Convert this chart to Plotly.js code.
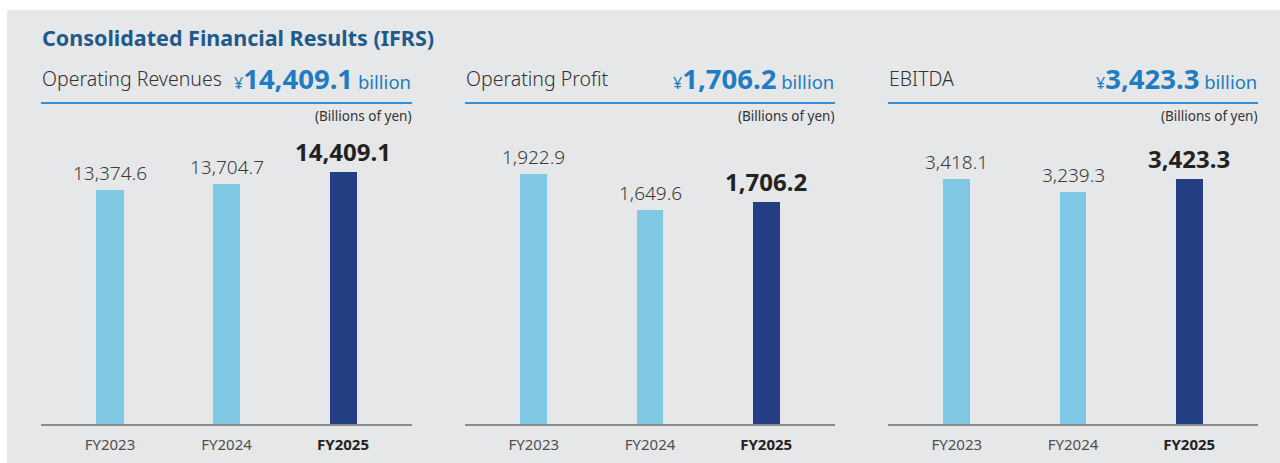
<!DOCTYPE html>
<html>
<head>
<meta charset="utf-8">
<script src="https://cdn.plot.ly/plotly-3.0.1.min.js"></script>
<style>html,body{margin:0;padding:0;background:#fff;}#chart{width:1280px;height:463px;}</style>
</head>
<body>
<div id="chart"></div>
<script>
// ---- data ----
const mainTitle = 'Consolidated Financial Results (IFRS)';
const fiscalYears = ['FY2023', 'FY2024', 'FY2025'];
const panelTitles = ['Operating Revenues', 'Operating Profit', 'EBITDA'];
const operatingRevenues = [13374.6, 13704.7, 14409.1];
const operatingProfit = [1922.9, 1649.6, 1706.2];
const ebitda = [3418.1, 3239.3, 3423.3];
const unitLabel = '(Billions of yen)';
const highlightIndex = 2;

// ---- layout helpers ----
const W = 1280, H = 463;
const seriesList = [operatingRevenues, operatingProfit, ebitda];
const panelX = [[41, 412], [465, 835], [888, 1258]];
const yRanges = [[0, 16811], [0, 2261], [0, 4102]];
const plotTop = 130, plotBottom = 424;
const lightBar = '#7fc8e3', darkBar = '#233e82';
const fmt = v => v.toLocaleString('en-US', {minimumFractionDigits: 1, maximumFractionDigits: 1});
const px = x => x / W;
const py = y => 1 - y / H;
const FONT = 'Noto Sans, Open Sans, sans-serif';

const traces = [];
const annotations = [];
const shapes = [];
const layout = {
  width: W, height: H,
  margin: {l: 0, r: 0, t: 0, b: 0},
  paper_bgcolor: '#e6e7e9',
  plot_bgcolor: 'rgba(0,0,0,0)',
  showlegend: false,
  bargap: 0,
  font: {family: FONT, color: '#333'},
};

// white border strips
shapes.push({type: 'rect', xref: 'paper', yref: 'paper', x0: 0, x1: px(7), y0: 0, y1: 1, fillcolor: '#ffffff', line: {width: 0}, layer: 'below'});
shapes.push({type: 'rect', xref: 'paper', yref: 'paper', x0: 0, x1: 1, y0: py(10), y1: 1, fillcolor: '#ffffff', line: {width: 0}, layer: 'below'});

annotations.push({
  xref: 'paper', yref: 'paper', x: px(40), y: py(37), xanchor: 'left', yanchor: 'middle',
  text: '<b>' + mainTitle + '</b>', showarrow: false,
  font: {family: FONT, size: 21.5, color: '#1e5a8c'}
});

seriesList.forEach((vals, i) => {
  const n = i === 0 ? '' : String(i + 1);
  const xa = 'xaxis' + n, ya = 'yaxis' + n;
  const xr = 'x' + n, yr = 'y' + n;
  traces.push({
    type: 'bar', x: fiscalYears, y: vals, xaxis: xr, yaxis: yr,
    width: 0.232,
    marker: {color: vals.map((v, j) => j === highlightIndex ? darkBar : lightBar), line: {width: 0}},
    hoverinfo: 'skip'
  });
  layout[xa] = {
    domain: [px(panelX[i][0]), px(panelX[i][1])],
    anchor: yr,
    type: 'category',
    range: [-0.592, 2.592],
    fixedrange: true,
    showgrid: false, zeroline: false,
    showline: true, linecolor: '#8c8c8c', linewidth: 1.5,
    ticks: 'outside', ticklen: 6, tickcolor: 'rgba(0,0,0,0)',
    tickmode: 'array', tickvals: fiscalYears,
    ticktext: fiscalYears.map((t, j) => j === highlightIndex ? '<b><span style="color:#222">' + t + '</span></b>' : t),
    tickfont: {family: FONT, size: 15, color: '#505050'}
  };
  layout[ya] = {
    domain: [py(plotBottom), py(plotTop)],
    anchor: xr,
    range: yRanges[i],
    visible: false,
    fixedrange: true
  };
  vals.forEach((v, j) => {
    const hl = j === highlightIndex;
    annotations.push({
      xref: xr, yref: yr, x: fiscalYears[j], y: v, xanchor: 'center', yanchor: 'bottom',
      yshift: 2, showarrow: false,
      text: hl ? '<b>' + fmt(v) + '</b>' : fmt(v),
      font: {family: FONT, size: hl ? 24 : 19, color: hl ? '#222' : '#3a3a3a', weight: hl ? 700 : 300}
    });
  });
  // panel header
  annotations.push({
    xref: 'paper', yref: 'paper', x: px(panelX[i][0] - 1), y: py(78), xanchor: 'left', yanchor: 'middle',
    text: panelTitles[i], showarrow: false,
    font: {family: FONT, size: 19.5, color: '#333', weight: 300}
  });
  annotations.push({
    xref: 'paper', yref: 'paper', x: px(panelX[i][1] + 1), y: py(78), xanchor: 'right', yanchor: 'middle',
    text: '<span style="font-size:16px">¥</span><span style="font-size:27.5px;font-weight:bold">' + fmt(vals[highlightIndex]) + '</span> billion',
    showarrow: false,
    font: {family: FONT, size: 18.5, color: '#1f7cc2'}
  });
  annotations.push({
    xref: 'paper', yref: 'paper', x: px(panelX[i][1] + 1), y: py(116), xanchor: 'right', yanchor: 'middle',
    text: unitLabel, showarrow: false,
    font: {family: FONT, size: 13.5, color: '#333'}
  });
  shapes.push({
    type: 'line', xref: 'paper', yref: 'paper',
    x0: px(panelX[i][0]), x1: px(panelX[i][1]), y0: py(103), y1: py(103),
    line: {color: '#3a8fd2', width: 2.2}
  });
});

layout.annotations = annotations;
layout.shapes = shapes;
Plotly.newPlot('chart', traces, layout, {displayModeBar: false, staticPlot: true});
</script>
</body>
</html>
